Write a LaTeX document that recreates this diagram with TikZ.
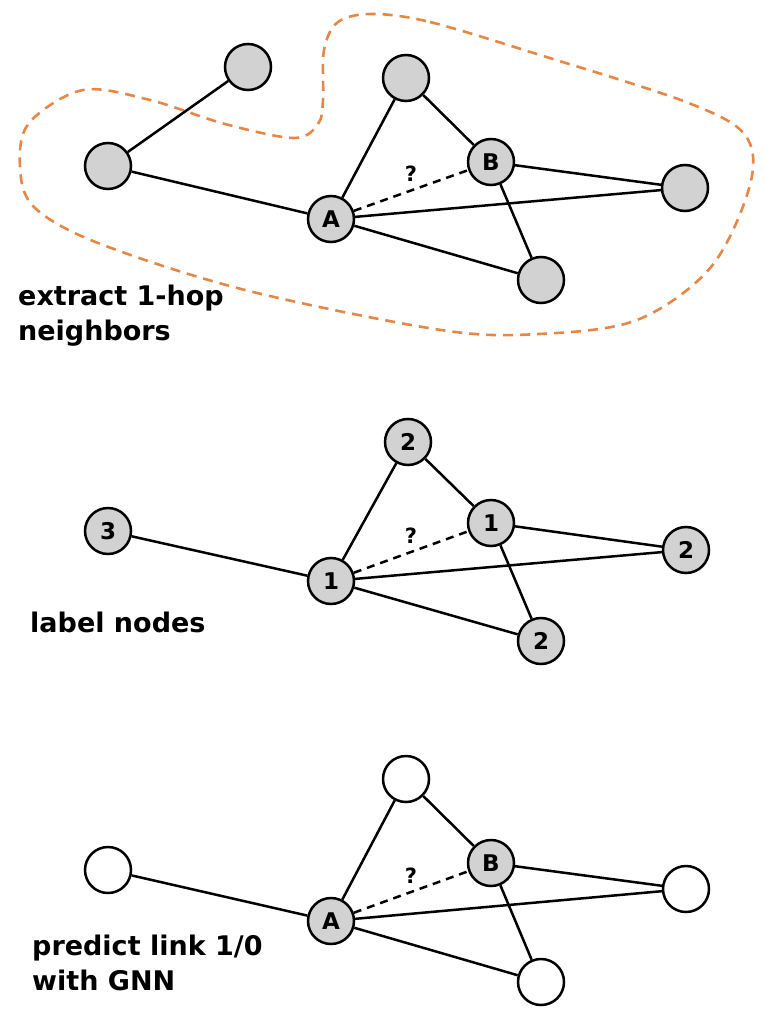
\documentclass[tikz,border=0pt]{standalone}
\usepackage{fontspec}
\setmainfont{DejaVu Sans}
\usetikzlibrary{positioning}
\definecolor{hoodorange}{RGB}{230,135,70}
\definecolor{nodegray}{RGB}{210,210,210}
\tikzset{
  vert/.style={circle, draw, line width=2.5pt, fill=nodegray, minimum size=46pt, inner sep=0pt, font=\bfseries\fontsize{23}{23}\selectfont},
  blank/.style={vert, fill=white},
  link/.style={line width=2.5pt},
  query/.style={line width=2.5pt, dash pattern=on 8pt off 6pt},
  hood/.style={hoodorange, line width=2.6pt, dash pattern=on 10pt off 7pt},
  mark q/.style={above=4pt, font=\bfseries\fontsize{21}{21}\selectfont},
  caption/.style={anchor=base west, align=left, inner sep=0pt, font=\bfseries\fontsize{27}{35}\selectfont}
}

\begin{document}
\begin{tikzpicture}[x=1pt,y=-1pt]
    \useasboundingbox (0,0) rectangle (766,1024);

    % step 1: neighborhood of A and B
    \draw[hood] plot[smooth cycle, tension=0.55] coordinates {
      (372,14) (430,22) (540,55) (686,102) (745,135) (750,185) (711,267)
      (637,320) (539,334) (441,330) (245,290) (98,243) (34,207) (20,167)
      (29,123) (83,90) (150,100) (225,124) (294,138) (318,124) (323,100)
      (324,50) (338,22)};
    \node[vert] (t0) at (248,67) {};
    \node[vert] (t1) at (108,166) {};
    \node[vert] (t2) at (406,78) {};
    \node[vert] (tB) at (491,162) {B};
    \node[vert] (tA) at (331,219) {A};
    \node[vert] (t3) at (685,188) {};
    \node[vert] (t4) at (541,280) {};
    \draw[link] (t1) edge (t0) edge (tA);
    \draw[link] (tA) edge (t2) edge (t3) edge (t4);
    \draw[link] (tB) edge (t2) edge (t3) edge (t4);
    \draw[query] (tA) -- node[mark q] {?} (tB);
    % base anchor sits on the last line
    \node[caption] (c1) at (18,340) {extract 1-hop\\neighbors};

    % step 2: distance labels
    \node[vert] (m1) at (108,531) {3};
    \node[vert] (m2) at (408,442) {2};
    \node[vert] (mB) at (491,523) {1};
    \node[vert] (mA) at (331,581) {1};
    \node[vert] (m3) at (686,550) {2};
    \node[vert] (m4) at (541,641) {2};
    \draw[link] (mA) edge (m1) edge (m2) edge (m3) edge (m4);
    \draw[link] (mB) edge (m2) edge (m3) edge (m4);
    \draw[query] (mA) -- node[mark q] {?} (mB);
    \node[caption] (c2) at (30,632) {label nodes};

    % step 3: GNN prediction
    \node[blank] (b1) at (108,870) {};
    \node[blank] (b2) at (406,779) {};
    \node[vert] (bB) at (491,863) {B};
    \node[vert] (bA) at (331,921) {A};
    \node[blank] (b3) at (686,889) {};
    \node[blank] (b4) at (541,982) {};
    \draw[link] (bA) edge (b1) edge (b2) edge (b3) edge (b4);
    \draw[link] (bB) edge (b2) edge (b3) edge (b4);
    \draw[query] (bA) -- node[mark q] {?} (bB);
    \node[caption] (c3) at (32,990) {predict link 1/0\\with GNN};
\end{tikzpicture}
\end{document}
